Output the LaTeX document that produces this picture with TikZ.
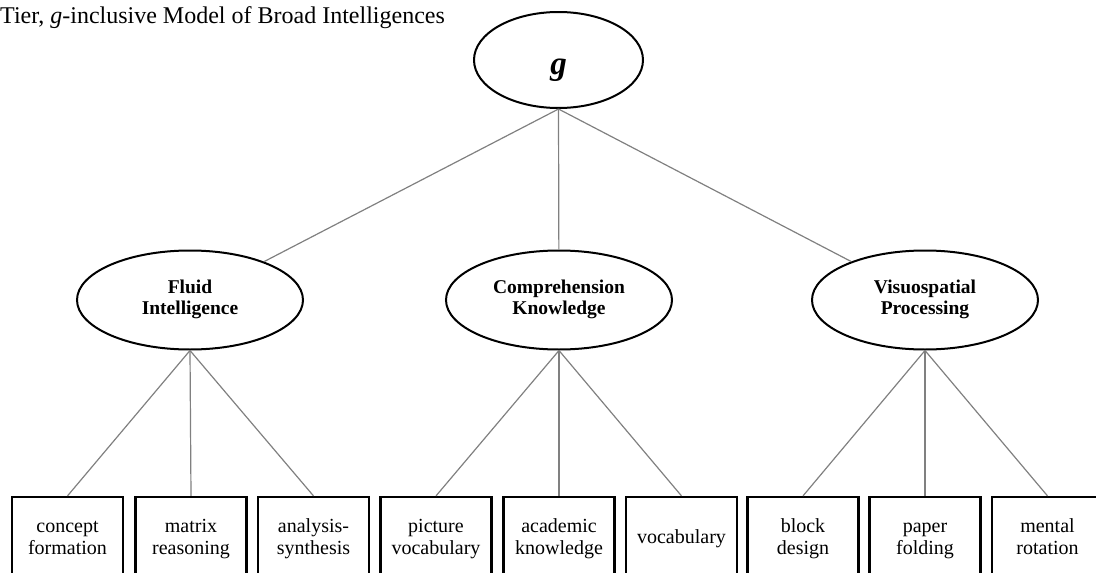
\documentclass[tikz,border=0pt]{standalone}
\usepackage{fontspec}
\setmainfont{Liberation Serif}
\usetikzlibrary{shapes.geometric}
\newcommand\twol[2]{\strut#1\\\strut#2}
\begin{document}
\begin{tikzpicture}[x=1pt,y=-1pt,
  factor/.style={ellipse,draw=black,line width=2pt,inner sep=0pt,
    minimum width=226pt,minimum height=99pt,align=center,
    font=\fontsize{19.5}{21}\selectfont\bfseries},
  test/.style={rectangle,draw=black,line width=2.2pt,inner sep=0pt,
    minimum width=111pt,minimum height=85pt,align=center,
    font=\fontsize{20}{22}\selectfont},
  link/.style={draw=black!50,line width=1.2pt}]
\useasboundingbox (0,0) rectangle (1096,573);
\node[anchor=base west,inner sep=0pt,font=\fontsize{24}{26}\selectfont] (title) at (0,23) {Tier, \textit{g}-inclusive Model of Broad Intelligences};
\node[factor,minimum width=169pt,minimum height=96pt,font=\fontsize{33}{33}\selectfont\bfseries\itshape] (g) at (558.5,60) {\raisebox{-14pt}[0pt][0pt]{g}};
\node[factor] (gf) at (190,300) {\twol{Fluid}{Intelligence}};
\node[factor] (gc) at (559,300) {\twol{Comprehension}{Knowledge}};
\node[factor] (gv) at (925,300) {\twol{Visuospatial}{Processing}};
\node[test] (t1) at (67.5,539.5) {\twol{concept}{formation}};
\node[test] (t2) at (191,539.5) {\twol{matrix}{reasoning}};
\node[test] (t3) at (313.5,539.5) {\twol{analysis-}{synthesis}};
\node[test] (t4) at (436,539.5) {\twol{picture}{vocabulary}};
\node[test] (t5) at (559,539.5) {\twol{academic}{knowledge}};
\node[test] (t6) at (681.5,539.5) {\strut vocabulary};
\node[test] (t7) at (803,539.5) {\twol{block}{design}};
\node[test] (t8) at (925,539.5) {\twol{paper}{folding}};
\node[test] (t9) at (1047.5,539.5) {\twol{mental}{rotation}};
\draw[link] (g.south) -- (gf);
\draw[link] (g.south) -- (gc);
\draw[link] (g.south) -- (gv);
\draw[link] (gf.south) -- (t1.north);
\draw[link] (gf.south) -- (t2.north);
\draw[link] (gf.south) -- (t3.north);
\draw[link] (gc.south) -- (t4.north);
\draw[link] (gc.south) -- (t5.north);
\draw[link] (gc.south) -- (t6.north);
\draw[link] (gv.south) -- (t7.north);
\draw[link] (gv.south) -- (t8.north);
\draw[link] (gv.south) -- (t9.north);
\end{tikzpicture}
\end{document}
